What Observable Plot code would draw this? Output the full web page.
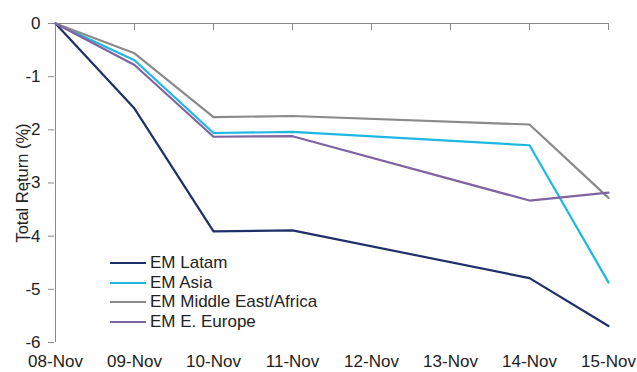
<!DOCTYPE html>
<html>
<head>
<meta charset="utf-8">
<script src="https://cdn.jsdelivr.net/npm/d3@7"></script>
<script src="https://cdn.jsdelivr.net/npm/@observablehq/plot@0.6"></script>
<style>
  html, body { margin: 0; padding: 0; background: #fff; }
  #wrap { position: relative; width: 637px; height: 372px; font-family: "Liberation Sans", Arial, sans-serif; }
  #legend { position: absolute; left: 110px; top: 253px; font-size: 17px; color: #222; line-height: 19.7px; }
  .row { display: flex; align-items: center; white-space: nowrap; }
  .sw { width: 36px; height: 0; border-top: 2.2px solid; margin-right: 4px; }
</style>
</head>
<body>
<div id="wrap"><div id="legend"></div></div>
<script>
const dates = ["08-Nov", "09-Nov", "10-Nov", "11-Nov", "12-Nov", "13-Nov", "14-Nov", "15-Nov"];
const obsDates = ["08-Nov", "09-Nov", "10-Nov", "11-Nov", "14-Nov", "15-Nov"];
const seriesNames = ["EM Latam", "EM Asia", "EM Middle East/Africa", "EM E. Europe"];
const seriesColors = ["#1f3068", "#1cb8e2", "#8a8a8a", "#8064a2"];
const latam = [0, -1.60, -3.91, -3.89, -4.79, -5.69];
const asia = [0, -0.69, -2.06, -2.04, -2.29, -4.87];
const meAfrica = [0, -0.56, -1.76, -1.74, -1.90, -3.28];
const eEurope = [0, -0.78, -2.13, -2.12, -3.33, -3.18];
const yTicks = [0, -1, -2, -3, -4, -5, -6];

const allSeries = [latam, asia, meAfrica, eEurope];
const rows = [];
allSeries.forEach((vals, s) => {
  vals.forEach((v, i) => rows.push({series: seriesNames[s], date: obsDates[i], value: v}));
});

const chart = Plot.plot({
  width: 637,
  height: 372,
  marginLeft: 54,
  marginRight: 28,
  marginTop: 23,
  marginBottom: 30,
  style: {fontFamily: '"Liberation Sans", Arial, sans-serif', fontSize: "17px", color: "#222", background: "#fff"},
  x: {type: "point", domain: dates, padding: 0},
  y: {domain: [-6, 0]},
  color: {domain: seriesNames, range: seriesColors},
  marks: [
    Plot.axisX({anchor: "top", tickSize: -6, tickFormat: () => "", stroke: "#888", label: null}),
    Plot.ruleY([0], {stroke: "#888", strokeWidth: 1}),
    Plot.ruleX([dates[0]], {y1: yTicks[0], y2: yTicks[yTicks.length - 1], stroke: "#888", strokeWidth: 1}),
    Plot.axisX({anchor: "bottom", tickSize: 0, tickPadding: 12, label: null, fill: "#222", fontSize: 17}),
    Plot.axisY({anchor: "left", ticks: yTicks, tickSize: 6, tickPadding: 8, stroke: "#888", label: null, fill: "#222", fontSize: 17, tickFormat: d => d === 0 ? "0" : "-" + Math.abs(d)}),
    Plot.text(["Total Return (%)"], {frameAnchor: "left", dx: -32, rotate: -90, fontSize: 16.5, fill: "#222", textAnchor: "middle"}),
    Plot.line(rows, {x: "date", y: "value", z: "series", stroke: "series", strokeWidth: 2.2})
  ]
});
document.getElementById("wrap").prepend(chart);
chart.style.display = "block";

const legend = document.getElementById("legend");
seriesNames.forEach((n, i) => {
  const r = document.createElement("div");
  r.className = "row";
  const sw = document.createElement("span");
  sw.className = "sw";
  sw.style.borderTopColor = seriesColors[i];
  const t = document.createElement("span");
  t.textContent = n;
  r.appendChild(sw); r.appendChild(t);
  legend.appendChild(r);
});
</script>
</body>
</html>
